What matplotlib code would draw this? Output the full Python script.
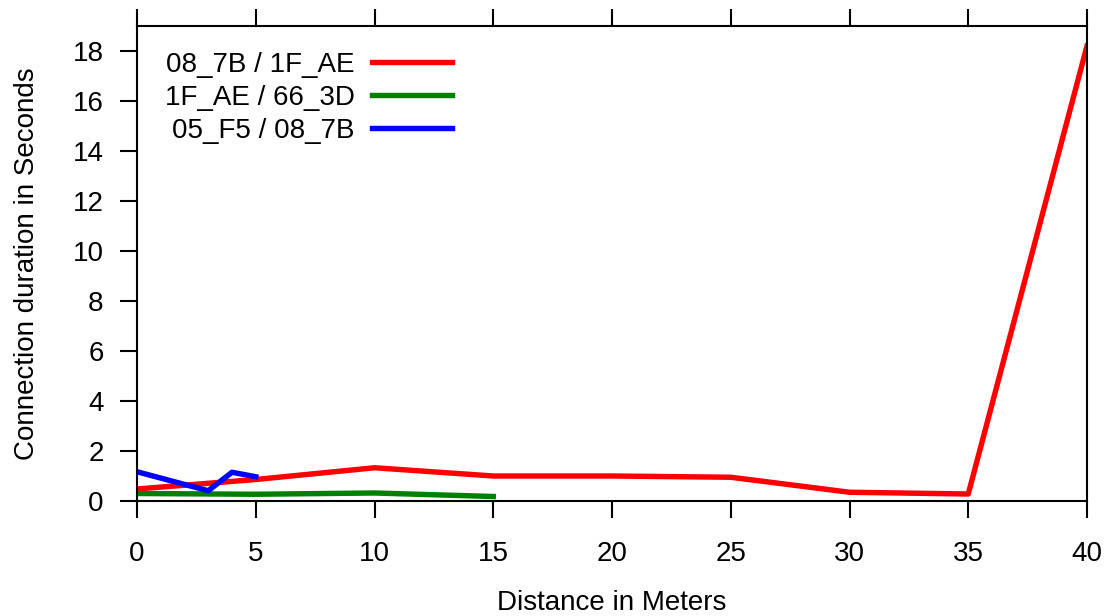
import matplotlib
matplotlib.use('Agg')
import matplotlib.pyplot as plt

plt.rcParams['font.family'] = ['Liberation Sans', 'DejaVu Sans']

# connection duration (s) vs distance (m)
red_x = [0, 5, 10, 15, 20, 25, 30, 35, 40]
red_y = [0.48, 0.86, 1.33, 1.0, 1.0, 0.95, 0.35, 0.28, 18.2]

green_x = [0, 5, 10, 15]
green_y = [0.3, 0.27, 0.32, 0.18]

blue_x = [0, 3, 4, 5]
blue_y = [1.17, 0.41, 1.15, 0.97]

labels = ['08_7B / 1F_AE', '1F_AE / 66_3D', '05_F5 / 08_7B']
xticks = [0, 5, 10, 15, 20, 25, 30, 35, 40]
yticks = [0, 2, 4, 6, 8, 10, 12, 14, 16, 18]

fig = plt.figure(figsize=(11.07, 6.16), dpi=100)
ax = fig.add_axes([137 / 1107, 1 - 501 / 616, 950 / 1107, 475 / 616])

ax.plot(red_x, red_y, color='#ff0000', lw=3.9, label=labels[0])
ax.plot(green_x, green_y, color='#008000', lw=3.9, label=labels[1])
ax.plot(blue_x, blue_y, color='#0000ff', lw=3.9, label=labels[2])

ax.set_xlim(0, 40)
ax.set_ylim(0, 19)
ax.set_xticks(xticks)
ax.set_yticks(yticks)
ax.tick_params(axis='both', direction='out', length=12, width=1.5,
               labelsize=20)
ax.tick_params(axis='x', top=True, labeltop=False, pad=17)
ax.tick_params(axis='y', pad=12)
for s in ax.spines.values():
    s.set_linewidth(1.5)

ax.set_xlabel('Distance in Meters', fontsize=20, labelpad=16)
ax.set_ylabel('Connection duration in Seconds', fontsize=20, labelpad=23.5)

leg = ax.legend(loc='upper left', frameon=False, fontsize=20, markerfirst=False,
                handlelength=2.85, labelspacing=0.25, borderpad=0, borderaxespad=0,
                handletextpad=0.65, bbox_to_anchor=(0.029, 0.945))

fig.savefig('out.png', dpi=100)
